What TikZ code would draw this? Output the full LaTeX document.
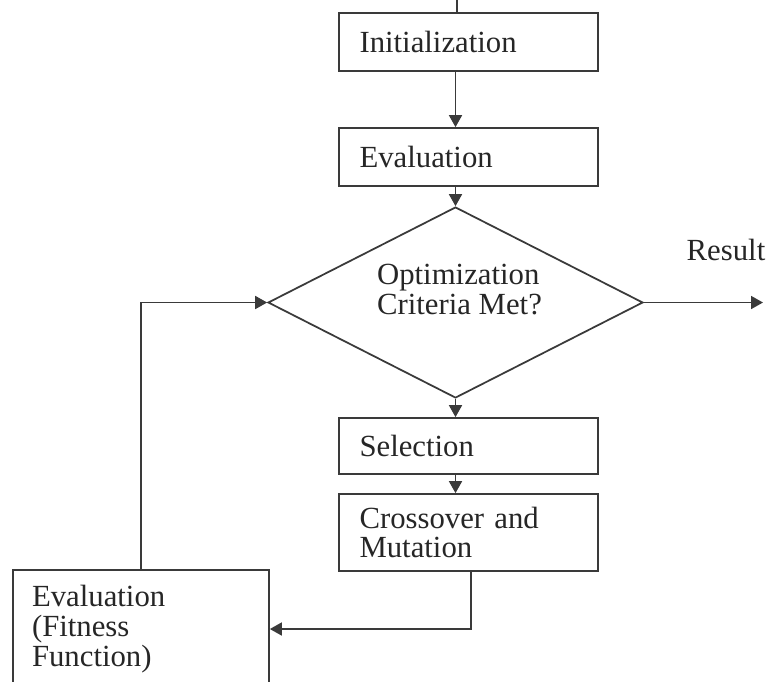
\documentclass[tikz,border=0pt]{standalone}
\usepackage{fontspec}
\setmainfont{Liberation Serif}
\usetikzlibrary{arrows.meta,positioning,calc,shapes.geometric}
\definecolor{Ink}{HTML}{262626}
\definecolor{Line}{HTML}{3A3A3A}
\tikzset{
  flow/.style={draw=Line,line width=1pt,text=Ink,minimum width=5.18cm,
    inner xsep=.41cm,text width=4.36cm,align=left,font=\fontsize{17.5}{17}\selectfont},
  decision/.style={diamond,draw=Line,line width=1pt,inner sep=0pt,
    minimum width=7.5cm,minimum height=3.82cm},
  label text/.style={text=Ink,inner sep=0pt,align=left,font=\fontsize{17.5}{17}\selectfont},
  arrow/.style={-{Triangle[length=2.4mm,width=2.6mm]},draw=Line,line width=1pt},
  line/.style={draw=Line,line width=1pt}
}
\begin{document}
\begin{tikzpicture}[x=0.02cm,y=-0.02cm]
        \useasboundingbox (0,0) rectangle (768,681);
        \node[flow,minimum height=1.16cm] (init) at (468.5,42) {Initialization};
        \node[flow,minimum height=1.16cm] (eval) at (468.5,157) {Evaluation};
        \node[decision] (dia) at (455.5,302.5) {};
        \node[label text] (crit) at ([yshift=.26cm,xshift=.08cm]dia.center) {Optimization\\Criteria Met?};
        \node[flow,minimum height=1.12cm] (sel) at (468.5,446) {Selection};
        \node[flow,minimum height=1.54cm] (cross) at (468.5,532.5) {Crossover and\\Mutation};
        \node[flow,minimum width=5.12cm,text width=4.36cm,inner xsep=.38cm,
          minimum height=2.36cm] (fit) at (141,629) {Evaluation\\(Fitness\\Function)};
        \node[label text] (res) at (726,250) {Result};
        \coordinate (top) at (457,0);
        \coordinate (out) at (763,302.5);
        \draw[line] (top) -- (init.north -| top);
        \draw[arrow] (init.south -| dia.north) -- (eval.north -| dia.north);
        \draw[arrow] (eval.south -| dia.north) -- (dia.north);
        \draw[arrow] (dia.south) -- (sel.north -| dia.south);
        \draw[arrow] (sel.south -| dia.south) -- (cross.north -| dia.south);
        \draw[arrow] ([xshift=.05cm]cross.south) |- (fit.east);
        \draw[arrow] (fit.north) |- (dia.west);
        \draw[arrow] (dia.east) -- (out);
      \end{tikzpicture}
\end{document}
